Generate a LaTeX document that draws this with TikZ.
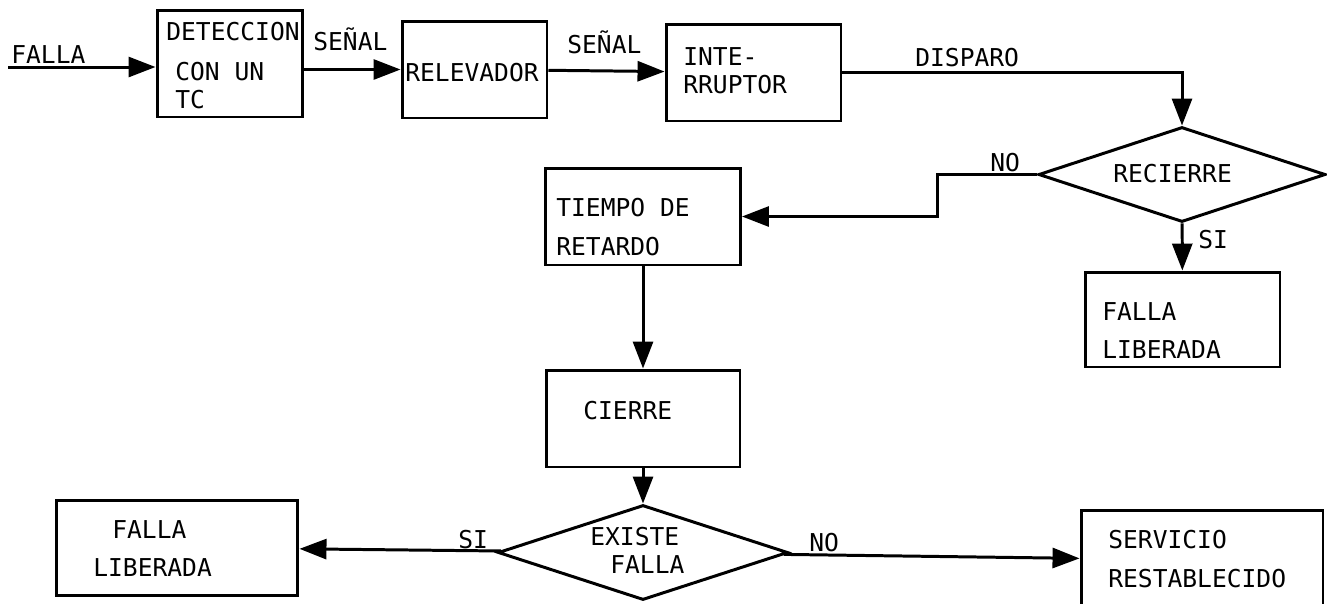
\documentclass[tikz,border=0pt]{standalone}
\usepackage{fontspec}
\setmainfont{DejaVu Sans Mono}
\usetikzlibrary{arrows.meta,shapes.geometric}

\begin{document}
\begin{tikzpicture}[
	x=0.02cm, y=-0.02cm,
	every node/.style={font=\fontsize{14}{22}\selectfont},
	box/.style={draw, line width=1.7pt, inner sep=0pt},
	decision/.style={draw, diamond, line width=1.7pt, inner sep=0pt},
	txt/.style={anchor=north west, align=left, inner sep=0pt},
	tight/.style={font=\fontsize{14}{16}\selectfont},
	arrow/.style={-{Triangle[length=5.4mm,width=4mm]}, line width=1.7pt}
	]
	
	\useasboundingbox (0,0) rectangle (1327,603);
	
	% bloques
	\node[box, minimum width=2.92cm, minimum height=2.14cm] (detec) at (230,63.5) {};
	\node[box, minimum width=2.9cm, minimum height=1.94cm] (relev) at (474.5,69.5) {};
	\node[box, minimum width=3.5cm, minimum height=1.94cm] (inter) at (753.5,72.5) {};
	\node[decision, minimum width=5.74cm, minimum height=1.9cm] (recierre) at (1182,174.5) {};
	\node[box, minimum width=3.9cm, minimum height=1.9cm] (libtr) at (1182.5,319.5) {};
	\node[box, minimum width=3.9cm, minimum height=1.94cm] (tiempo) at (643,216.5) {};
	\node[box, minimum width=3.88cm, minimum height=1.94cm] (cierre) at (643,418.5) {};
	\node[decision, minimum width=5.8cm, minimum height=1.9cm] (existe) at (643,552.5) {};
	\node[box, minimum width=4.84cm, minimum height=1.9cm] (libbl) at (177,547.5) {};
	\node[box, minimum width=4.84cm, minimum height=2cm] (servicio) at (1202,560) {};
	
	% textos
	\node[txt, tight] (detec-t) at (166,22) {DETECCION\\[6.8pt]\hspace*{0.18cm}CON UN\\\hspace*{0.18cm}TC};
	\node[txt] (relev-t) at (405,63) {RELEVADOR};
	\node[txt, tight] (inter-t) at (683,47) {INTE-\\RRUPTOR};
	\node[txt] (recierre-t) at (1113,164) {RECIERRE};
	\node[txt] (libtr-t) at (1102,302) {FALLA\\LIBERADA};
	\node[txt] (tiempo-t) at (556,198) {TIEMPO DE\\RETARDO};
	\node[txt] (cierre-t) at (583,401) {CIERRE};
	\node[txt, tight] (existe-t) at (590,527) {EXISTE\\\hspace*{0.4cm}FALLA};
	\node[txt] (libbl-t) at (93,520) {\hspace*{0.38cm}FALLA\\LIBERADA};
	\node[txt] (servicio-t) at (1108,530) {SERVICIO\\RESTABLECIDO};
	
	% etiquetas
	\node[txt] (falla) at (11,45) {FALLA};
	\node[txt, anchor=base west] (senal1) at (313,50) {SEÑAL};
	\node[txt, anchor=base west] (senal2) at (567,53) {SEÑAL};
	\node[txt] (disparo) at (915,48) {DISPARO};
	\node[txt] (no1) at (990,153) {NO};
	\node[txt] (si1) at (1198,230) {SI};
	\node[txt] (si2) at (458,530) {SI};
	\node[txt] (no2) at (809,533) {NO};
	
	% conexiones
	\coordinate (in) at (8,67);
	\coordinate (bend) at (937,174.5);
	\draw[arrow] (in) -- (in -| detec.west);
	\draw[arrow] (detec.east |- relev) -- (relev);
	\draw[arrow] (relev) -- (inter);
	\draw[arrow] (inter) -| (recierre);
	\draw[arrow] (recierre.west) -- (bend) |- (tiempo);
	\draw[arrow] (recierre) -- (libtr);
	\draw[arrow] (tiempo) -- (cierre);
	\draw[arrow] (cierre) -- (existe);
	\draw[arrow] (existe) -- (libbl);
	\draw[arrow] (existe) -- (servicio);
	
\end{tikzpicture}
\end{document}
